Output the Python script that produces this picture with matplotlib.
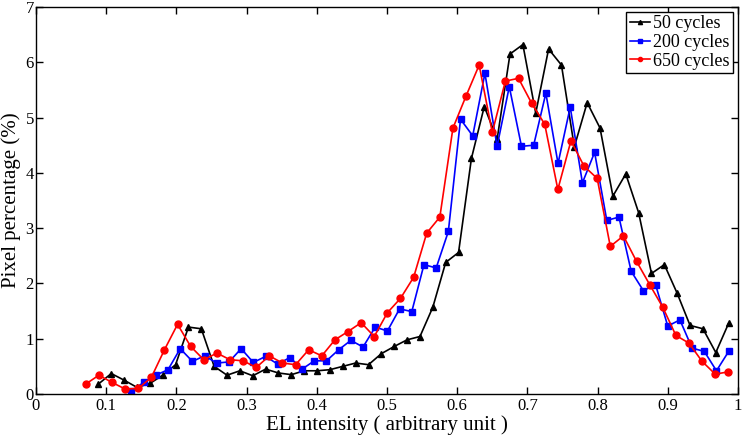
import numpy as np
import matplotlib
matplotlib.use("Agg")
import matplotlib.pyplot as plt

plt.rcParams['font.family'] = ['Liberation Serif', 'DejaVu Serif']

labels = ["50 cycles", "200 cycles", "650 cycles"]

x_black_range = (0.0889, 0.9867)
x_blue_range = (0.136, 0.9867)
x_red_range = (0.0709, 0.9862)

y_black = [0.18, 0.37, 0.25, 0.12, 0.19, 0.34, 0.53, 1.21, 1.18, 0.50,
           0.34, 0.42, 0.33, 0.45, 0.38, 0.35, 0.42, 0.42, 0.44, 0.50,
           0.56, 0.53, 0.73, 0.86, 0.98, 1.04, 1.57, 2.38, 2.56, 4.26,
           5.20, 4.61, 6.15, 6.32, 5.08, 6.24, 5.95, 4.47, 5.27, 4.81,
           3.58, 3.98, 3.28, 2.18, 2.34, 1.82, 1.24, 1.18, 0.75, 1.28]

y_blue = [0.05, 0.21, 0.34, 0.44, 0.82, 0.59, 0.69, 0.56, 0.58, 0.82,
          0.57, 0.68, 0.54, 0.66, 0.45, 0.60, 0.60, 0.80, 0.97, 0.85,
          1.21, 1.14, 1.54, 1.49, 2.34, 2.28, 2.94, 4.97, 4.67, 5.80,
          4.48, 5.56, 4.48, 4.50, 5.44, 4.17, 5.19, 3.82, 4.37, 3.14,
          3.20, 2.22, 1.87, 1.98, 1.23, 1.34, 0.83, 0.77, 0.42, 0.77]

y_red = [0.18, 0.34, 0.21, 0.09, 0.10, 0.30, 0.80, 1.26, 0.86, 0.62,
         0.74, 0.62, 0.60, 0.48, 0.69, 0.56, 0.53, 0.80, 0.69, 0.98,
         1.13, 1.29, 1.04, 1.47, 1.73, 2.11, 2.91, 3.20, 4.81, 5.39,
         5.95, 4.73, 5.66, 5.71, 5.26, 4.88, 3.70, 4.58, 4.12, 3.90,
         2.67, 2.86, 2.40, 1.98, 1.57, 1.06, 0.92, 0.59, 0.36, 0.40]

x_ticks = [0, 0.1, 0.2, 0.3, 0.4, 0.5, 0.6, 0.7, 0.8, 0.9, 1]
x_ticklabels = ["0", "0.1", "0.2", "0.3", "0.4", "0.5", "0.6", "0.7", "0.8", "0.9", "1"]
y_ticks = [0, 1, 2, 3, 4, 5, 6, 7]

x_black = np.linspace(*x_black_range, len(y_black))
x_blue = np.linspace(*x_blue_range, len(y_blue))
x_red = np.linspace(*x_red_range, len(y_red))

fig = plt.figure(figsize=(7.43, 4.36), dpi=100)
ax = fig.add_axes([36/743, 1 - 394/436, (738-36)/743, (394-7)/436])

ax.plot(x_black, y_black, color='black', marker='^', markersize=5, lw=1.2, label=labels[0])
ax.plot(x_blue, y_blue, color='blue', marker='s', markersize=4, lw=1.2, label=labels[1])
ax.plot(x_red, y_red, color='red', marker='o', markersize=5, lw=1.2, label=labels[2])

ax.set_xlim(0, 1)
ax.set_ylim(0, 7)
ax.set_xticks(x_ticks)
ax.set_xticklabels(x_ticklabels)
ax.set_yticks(y_ticks)
ax.tick_params(direction='in', top=True, right=True, labelsize=12, length=5, width=1)
ax.tick_params(axis='y', pad=1.5)
ax.tick_params(axis='x', pad=3)
for s in ax.spines.values():
    s.set_linewidth(1.0)
ax.set_xlabel("EL intensity ( arbitrary unit )", fontsize=15, labelpad=1)
ax.set_ylabel("Pixel percentage (%)", fontsize=15)
ax.yaxis.set_label_coords(-15/702, 0.5)

leg = ax.legend(loc='upper right', fontsize=13, fancybox=False, edgecolor='black',
                framealpha=1, borderpad=0.2, handlelength=1.1, handletextpad=0.2,
                labelspacing=0.1, borderaxespad=0.25, markerscale=0.6)
leg.get_frame().set_linewidth(1.0)

fig.savefig("out.png", dpi=100)
